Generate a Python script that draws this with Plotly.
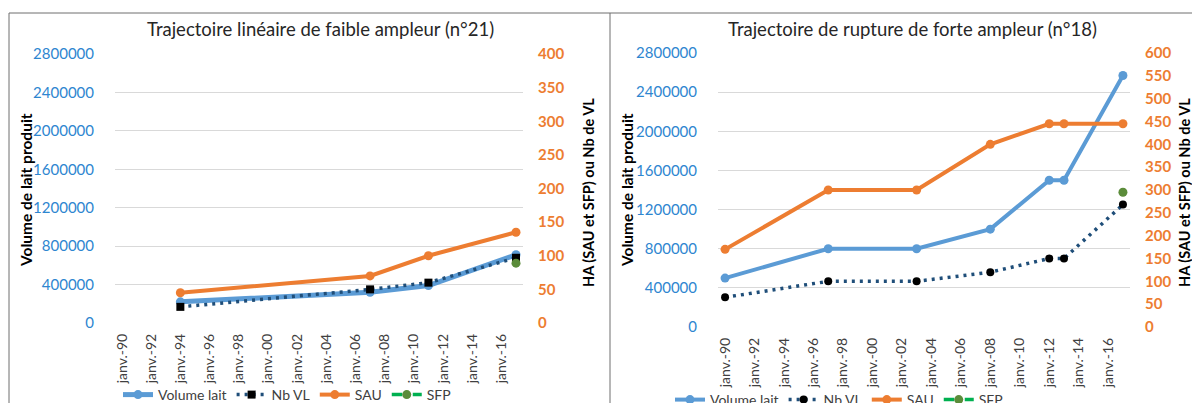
import plotly.graph_objects as go

# ---------------- Data ----------------
# Left chart : Trajectoire linéaire de faible ampleur (n°21)
l_dates = ["1994-01-01", "2007-01-01", "2011-01-01", "2017-01-01"]
l_volume = [220000, 320000, 390000, 710000]
l_nbvl = [24, 50, 60, 97]
l_sau = [45, 70, 100, 135]
l_sfp_dates = ["2017-01-01"]
l_sfp = [89]

# Right chart : Trajectoire de rupture de forte ampleur (n°18)
r_dates = ["1990-01-01", "1997-01-01", "2003-01-01", "2008-01-01",
           "2012-01-01", "2013-01-01", "2017-01-01"]
r_volume = [500000, 800000, 800000, 1000000, 1500000, 1500000, 2570000]
r_nbvl = [65, 100, 100, 120, 150, 150, 268]
r_sau = [170, 300, 300, 400, 445, 445, 445]
r_sfp_dates = ["2017-01-01"]
r_sfp = [295]

x_tick_vals = ["1990-01-01", "1992-01-01", "1994-01-01", "1996-01-01", "1998-01-01",
               "2000-01-01", "2002-01-01", "2004-01-01", "2006-01-01", "2008-01-01",
               "2010-01-01", "2012-01-01", "2014-01-01", "2016-01-01"]
x_tick_labels = ["janv.-90", "janv.-92", "janv.-94", "janv.-96", "janv.-98",
                 "janv.-00", "janv.-02", "janv.-04", "janv.-06", "janv.-08",
                 "janv.-10", "janv.-12", "janv.-14", "janv.-16"]

titles = ["Trajectoire linéaire de faible ampleur (n°21)",
          "Trajectoire de rupture de forte ampleur (n°18)"]
y_left_title = "Volume de lait produit"
y_right_title = "HA (SAU et SFP) ou Nb de VL"

# ---------------- Style ----------------
FONT = "Lato"
BLUE = "#5B9BD5"
NAVY = "#1F4E79"
ORANGE = "#ED7D31"
GREEN = "#00B050"
OLIVE = "#5B8C3A"
TICK_BLUE = "#2E86D0"
GRID = "#D9D9D9"
W, H = 1200, 403
OFF = 8  # the page body margin shifts the figure by 8px right and down


def px_x(x):
    # x given in window pixels
    return (x - OFF) / W


def px_y(y):
    # y given in window pixels (from top)
    return (H - (y - OFF)) / H


fig = go.Figure()


def add_chart(dates, vol, nbvl, sau, sfp_d, sfp, xa, ya, ya2, leg, nb_symbol, vol_w):
    fig.add_trace(go.Scatter(
        x=dates, y=vol, name="Volume lait", xaxis=xa, yaxis=ya, legend=leg,
        mode="lines+markers", line=dict(color=BLUE, width=vol_w),
        marker=dict(color=BLUE, size=9, symbol="circle")))
    fig.add_trace(go.Scatter(
        x=dates, y=nbvl, name="Nb VL", xaxis=xa, yaxis=ya2, legend=leg,
        mode="lines+markers", line=dict(color=NAVY, width=3.5, dash="3px,5px"),
        marker=dict(color="black", size=8, symbol=nb_symbol)))
    fig.add_trace(go.Scatter(
        x=dates, y=sau, name="SAU", xaxis=xa, yaxis=ya2, legend=leg,
        mode="lines+markers", line=dict(color=ORANGE, width=4),
        marker=dict(color=ORANGE, size=9, symbol="circle")))
    fig.add_trace(go.Scatter(
        x=sfp_d, y=sfp, name="SFP", xaxis=xa, yaxis=ya2, legend=leg,
        mode="lines+markers", line=dict(color=GREEN, width=3.5, dash="dash"),
        marker=dict(color=OLIVE, size=9, symbol="circle")))


add_chart(l_dates, l_volume, l_nbvl, l_sau, l_sfp_dates, l_sfp,
          "x", "y", "y2", "legend", "square", 5)
add_chart(r_dates, r_volume, r_nbvl, r_sau, r_sfp_dates, r_sfp,
          "x2", "y3", "y4", "legend2", "circle", 4)

xrange = ["1989-07-10", "2017-06-25"]

xcommon = dict(type="date", range=xrange, tickmode="array",
               tickvals=x_tick_vals, ticktext=x_tick_labels, tickangle=-90,
               showgrid=False, zeroline=False, showline=False, ticks="",
               tickfont=dict(family=FONT, size=14, color="#404040"),
               ticklabelstandoff=7, automargin=False, fixedrange=True)

yleft = dict(range=[0, 2800000], dtick=400000, tick0=0, showgrid=True, gridcolor=GRID,
             gridwidth=1.3, zeroline=False, showline=False, ticks="",
             tickfont=dict(family=FONT, size=15, color=TICK_BLUE),
             ticklabelstandoff=20, automargin=False, fixedrange=True,
             tickformat="d")

yright = dict(dtick=50, tick0=0, side="right", showgrid=False, zeroline=False,
              showline=False, ticks="",
              tickfont=dict(family=FONT, size=15, color=ORANGE, weight="bold"),
              ticklabelstandoff=14, automargin=False, fixedrange=True)

left_dom_x = [px_x(115), px_x(523)]
left_dom_y = [px_y(323), px_y(54)]
right_dom_x = [px_x(718), px_x(1130)]
right_dom_y = [px_y(327), px_y(53)]

legend_common = dict(orientation="h", xanchor="left", yanchor="middle",
                     font=dict(family=FONT, size=14, color="#404040"),
                     bgcolor="rgba(0,0,0,0)", itemwidth=30, tracegroupgap=0)

fig.update_layout(
    width=W, height=H, autosize=False,
    margin=dict(l=0, r=0, t=0, b=0, autoexpand=False),
    paper_bgcolor="white", plot_bgcolor="white",
    font=dict(family=FONT, color="#404040"),
    xaxis=dict(domain=left_dom_x, anchor="y", **xcommon),
    yaxis=dict(domain=left_dom_y, anchor="x", side="left", **yleft),
    yaxis2=dict(range=[0, 400], overlaying="y", anchor="x", **yright),
    xaxis2=dict(domain=right_dom_x, anchor="y3", **xcommon),
    yaxis3=dict(domain=right_dom_y, anchor="x2", side="left", **yleft),
    yaxis4=dict(range=[0, 600], overlaying="y3", anchor="x2", **yright),
    legend=dict(x=px_x(118), y=px_y(395), **legend_common),
    legend2=dict(x=px_x(670), y=px_y(400), **legend_common),
    showlegend=True,
)

annotations = [
    dict(text=titles[0], x=px_x(320), y=px_y(29)),
    dict(text=titles[1], x=px_x(912), y=px_y(29)),
]
for a in annotations:
    a.update(xref="paper", yref="paper", showarrow=False, xanchor="center", yanchor="middle",
             font=dict(family=FONT, size=18.5, color="#262626"))

axis_titles = [
    dict(text=y_left_title, x=px_x(26), y=px_y(190), size=15.5),
    dict(text=y_right_title, x=px_x(588), y=px_y(193), size=14.5),
    dict(text=y_left_title, x=px_x(627), y=px_y(190), size=15.5),
    dict(text=y_right_title, x=px_x(1184), y=px_y(193), size=14.5),
]
for t in axis_titles:
    annotations.append(dict(text="<b>" + t["text"] + "</b>", x=t["x"], y=t["y"],
                            xref="paper", yref="paper", showarrow=False, textangle=-90,
                            xanchor="center", yanchor="middle",
                            font=dict(family=FONT, size=t["size"], color="black")))
fig.update_layout(annotations=annotations)

# frame lines of the two chart boxes
border = dict(color="#6E6E6E", width=1)
fig.update_layout(shapes=[
    dict(type="line", xref="paper", yref="paper", x0=px_x(9), x1=1, y0=px_y(13), y1=px_y(13), line=border),
    dict(type="line", xref="paper", yref="paper", x0=px_x(9), x1=px_x(9), y0=px_y(13), y1=0, line=border),
    dict(type="line", xref="paper", yref="paper", x0=px_x(610), x1=px_x(610), y0=px_y(13), y1=0, line=border),
])

fig.write_html("out.html")
